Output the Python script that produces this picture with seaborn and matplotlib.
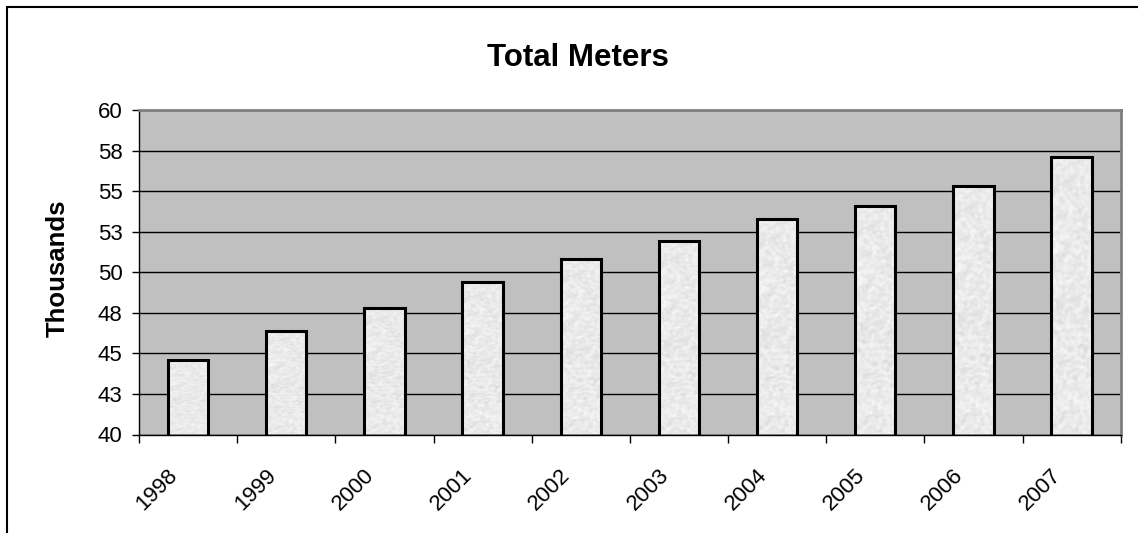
import numpy as np
import pandas as pd
import matplotlib
matplotlib.use("Agg")
import matplotlib.pyplot as plt
import matplotlib.transforms as mtransforms
from matplotlib.patches import Rectangle
import seaborn as sns

# Annual totals, in thousands of meters
years = ["1998", "1999", "2000", "2001", "2002", "2003", "2004", "2005", "2006", "2007"]
meters_thousands = [44.6, 46.4, 47.8, 49.4, 50.8, 51.9, 53.3, 54.1, 55.3, 57.1]

# Value axis: ticks every 2.5, labelled rounded half-up to whole thousands
y_ticks = [40, 42.5, 45, 47.5, 50, 52.5, 55, 57.5, 60]
y_tick_labels = ["40", "43", "45", "48", "50", "53", "55", "58", "60"]

title = "Total Meters"
y_label = "Thousands"

sns.set_theme(style="white")
plt.rcParams["font.family"] = ["Liberation Sans", "DejaVu Sans"]
plt.rcParams["text.color"] = "black"
plt.rcParams["xtick.color"] = "black"
plt.rcParams["ytick.color"] = "black"
plt.rcParams["axes.labelcolor"] = "black"

W, H, DPI = 1138, 533, 100
fig = plt.figure(figsize=(W / DPI, H / DPI), dpi=DPI, facecolor="white")
ax = fig.add_axes([139 / W, 1 - 434.5 / H, (1120.7 - 139) / W, (434.5 - 110) / H])
ax.set_facecolor("#c0c0c0")

df = pd.DataFrame({"year": years, "meters": meters_thousands})
sns.barplot(data=df, x="year", y="meters", ax=ax, width=0.41,
            color="#eeeeee", edgecolor="black", linewidth=2.2,
            saturation=1, errorbar=None)

ax.set_ylim(y_ticks[0], y_ticks[-1])
ax.set_xlim(-0.5, len(years) - 0.5)

# Speckled light-grey fill texture, clipped to each bar
rng = np.random.default_rng(7)
tex = rng.random((220, 34))
for _ in range(2):
    tex = (tex + np.roll(tex, 1, 0) + np.roll(tex, -1, 0)
           + np.roll(tex, 1, 1) + np.roll(tex, -1, 1)) / 5.0
tex = (tex - tex.min()) / (tex.max() - tex.min())
y0 = ax.get_ylim()[0]
for patch in ax.patches:
    x = patch.get_x()
    w = patch.get_width()
    top = patch.get_y() + patch.get_height()
    img = ax.imshow(tex, cmap="gray", vmin=-6.6, vmax=1.15, aspect="auto",
                    interpolation="bilinear", extent=(x, x + w, y0, top),
                    zorder=2)
    img.set_clip_path(patch)
    patch.set_facecolor("none")
    patch.set_zorder(3)
ax.set_xlim(-0.5, len(years) - 0.5)
ax.set_ylim(y_ticks[0], y_ticks[-1])

# Horizontal gridlines
ax.set_axisbelow(True)
ax.yaxis.grid(True, color="black", linewidth=1)
ax.xaxis.grid(False)

# Spines: plot-area border grey on top/right, axes black
for side in ("top", "right"):
    ax.spines[side].set_color("#808080")
    ax.spines[side].set_linewidth(2)
for side in ("left", "bottom"):
    ax.spines[side].set_color("black")
    ax.spines[side].set_linewidth(1)

ax.set_yticks(y_ticks)
ax.set_yticklabels(y_tick_labels)
ax.tick_params(axis="y", which="major", direction="out", length=5, width=1,
               color="black", labelsize=16, pad=7, left=True)

# Category labels at centres, tick marks between categories
ax.set_xticks(range(len(years)))
ax.set_xticklabels(years, rotation=45, ha="right", va="top")
ax.set_xticks(np.arange(-0.5, len(years), 1.0), minor=True)
ax.tick_params(axis="x", which="major", length=0, labelsize=16, pad=22)
ax.tick_params(axis="x", which="minor", direction="out", length=6, width=1,
               color="black", bottom=True)
shift = mtransforms.ScaledTranslation(-0.06, 0, fig.dpi_scale_trans)
for lbl in ax.get_xticklabels():
    lbl.set_transform(lbl.get_transform() + shift)

ax.set_xlabel("")
ax.set_ylabel("")

fig.text(577.5 / W, 1 - 66 / H, title, ha="center", va="baseline",
         fontsize=22.5, fontweight="bold")
fig.text(58 / W, 1 - 268.3 / H, y_label, rotation=90, ha="center", va="center",
         fontsize=18.5, fontweight="bold")

# Chart-area frame
fig.patches.append(Rectangle((7 / W, -0.2), 1.2, 1 - 7 / H + 0.2,
                             transform=fig.transFigure, fill=False,
                             edgecolor="black", linewidth=1.5, clip_on=False))

fig.savefig("out.png", dpi=DPI, facecolor="white")
